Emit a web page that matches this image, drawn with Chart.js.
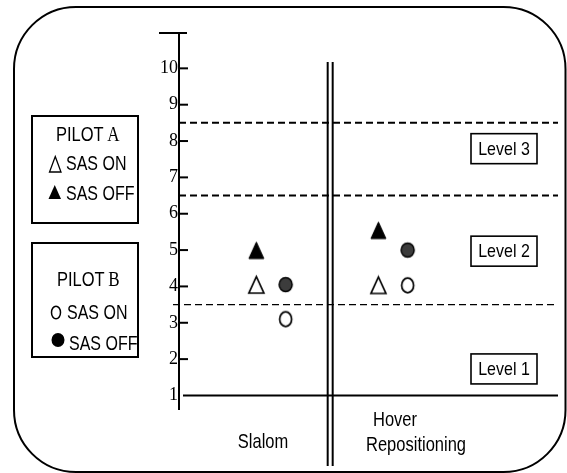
<!DOCTYPE html>
<html lang="en">
<head>
<meta charset="UTF-8">
<title>Pilot ratings - Slalom / Hover Repositioning</title>
<script src="https://cdn.jsdelivr.net/npm/chart.js"></script>
<style>
  body { margin: 0; background: #fff; }
  canvas { display: block; }
</style>
</head>
<body>
<canvas id="chart" width="567" height="473"></canvas>
<script>
// data
const categories = ['Slalom', 'Hover Repositioning'];
const categoryX = [1, 2];
const pilotASasOn = [4.05, 4.04];
const pilotASasOff = [5.0, 5.55];
const pilotBSasOn = [3.1, 4.03];
const pilotBSasOff = [4.05, 5.0];
const yTicks = [1, 2, 3, 4, 5, 6, 7, 8, 9, 10];
const levelBounds = [3.5, 6.5, 8.5];
const levelNames = ['Level 1', 'Level 2', 'Level 3'];
const levelLabelY = [1.73, 4.97, 7.79];
const dividerX = 1.485;
const pilotOffset = 0.12;

const SANS = '"Liberation Sans", Arial, sans-serif';
const SERIF = '"Liberation Serif", "Times New Roman", serif';

function makeMarker(w, h, draw) {
    const c = document.createElement('canvas');
    c.width = w;
    c.height = h;
    draw(c.getContext('2d'));
    return c;
}

function triPath(ctx, x, y, w, h) {
    ctx.beginPath();
    ctx.moveTo(x + w / 2, y);
    ctx.lineTo(x + w, y + h);
    ctx.lineTo(x, y + h);
    ctx.closePath();
}

const openTri = makeMarker(19, 21, ctx => {
    triPath(ctx, 2, 2.5, 15, 16.5);
    ctx.fillStyle = '#fff'; ctx.fill();
    ctx.lineWidth = 1.7; ctx.strokeStyle = '#000'; ctx.miterLimit = 3; ctx.stroke();
});
const filledTri = makeMarker(19, 21, ctx => {
    triPath(ctx, 2, 2.5, 15, 16.5);
    ctx.fillStyle = '#000'; ctx.fill();
    ctx.lineWidth = 1; ctx.strokeStyle = '#000'; ctx.miterLimit = 3; ctx.stroke();
});
const openCircle = makeMarker(17, 19, ctx => {
    ctx.beginPath(); ctx.ellipse(8.5, 9.5, 6, 7.3, 0, 0, Math.PI * 2);
    ctx.fillStyle = '#fff'; ctx.fill();
    ctx.lineWidth = 1.7; ctx.strokeStyle = '#000'; ctx.stroke();
});
const filledCircle = makeMarker(17, 19, ctx => {
    ctx.beginPath(); ctx.ellipse(8.5, 9.5, 6.5, 7, 0, 0, Math.PI * 2);
    ctx.fillStyle = '#3c3c3c'; ctx.fill();
    ctx.lineWidth = 1.5; ctx.strokeStyle = '#000'; ctx.stroke();
});

function line(ctx, x1, y1, x2, y2) {
    ctx.beginPath();
    ctx.moveTo(x1, y1);
    ctx.lineTo(x2, y2);
    ctx.stroke();
}

// the scanned figure has slightly tall, narrow lettering
function text(ctx, s, x, y, font, align, stretch) {
    ctx.save();
    ctx.translate(x, y);
    ctx.scale(1, stretch || 1.25);
    ctx.font = font;
    ctx.textAlign = align || 'left';
    ctx.textBaseline = 'middle';
    ctx.fillStyle = '#000';
    ctx.fillText(s, 0, 0);
    ctx.restore();
}

function roundRect(ctx, x, y, w, h, r) {
    ctx.beginPath();
    ctx.moveTo(x + r, y);
    ctx.arcTo(x + w, y, x + w, y + h, r);
    ctx.arcTo(x + w, y + h, x, y + h, r);
    ctx.arcTo(x, y + h, x, y, r);
    ctx.arcTo(x, y, x + w, y, r);
    ctx.closePath();
}

const decorations = {
    id: 'decorations',
    beforeDatasetsDraw(chart) {
        const ctx = chart.ctx;
        const area = chart.chartArea;
        const ya = chart.scales.y;
        const xa = chart.scales.x;
        ctx.save();
        ctx.strokeStyle = '#000';

        // outer rounded frame
        ctx.lineWidth = 2;
        roundRect(ctx, 14, 7, 551.5, 465, 62);
        ctx.stroke();

        // y axis, cap and ticks
        const ax = area.left;
        line(ctx, ax, area.top + 1, ax, area.bottom);
        line(ctx, ax - 20, area.top + 1, ax + 8, area.top + 1);
        yTicks.slice(1).forEach(v => {
            const y = ya.getPixelForValue(v);
            line(ctx, ax, y, ax + 9, y);
        });

        // level 1 baseline
        const yBase = ya.getPixelForValue(yTicks[0]);
        line(ctx, ax + 4, yBase, area.right, yBase);

        // level boundaries
        levelBounds.forEach((b, i) => {
            const y = ya.getPixelForValue(b);
            ctx.lineWidth = i === 0 ? 1.3 : 2;
            ctx.setLineDash([7, 4]);
            line(ctx, i === 0 ? ax - 6 : ax, y, area.right, y);
        });
        ctx.setLineDash([]);

        // double divider between tasks
        const dx = xa.getPixelForValue(dividerX);
        ctx.lineWidth = 2;
        line(ctx, dx - 2.5, 62, dx - 2.5, 466);
        line(ctx, dx + 2.5, 62, dx + 2.5, 466);

        // level labels
        levelNames.forEach((name, i) => {
            const cy = ya.getPixelForValue(levelLabelY[i]);
            const cx = area.right - 54;
            ctx.lineWidth = 1.6;
            ctx.strokeRect(cx - 33, cy - 15, 66, 30);
            text(ctx, name, cx, cy + 1, '16px ' + SANS, 'center', 1.2);
        });

        // task labels
        const sx = xa.getPixelForValue(categoryX[0]);
        text(ctx, categories[0], sx - 8, 442, '16.5px ' + SANS, 'center');
        const hx = xa.getPixelForValue(categoryX[1]);
        const parts = categories[1].split(' ');
        text(ctx, parts[0], hx - 20, 420, '16.5px ' + SANS, 'left');
        text(ctx, parts[1], hx - 27, 445, '16.5px ' + SANS, 'left');

        // legend boxes
        ctx.lineWidth = 2;
        ctx.strokeRect(32, 116, 106, 107);
        ctx.strokeRect(32, 243, 106, 114);

        ctx.font = '16.5px ' + SANS;
        const wPilot = ctx.measureText('PILOT ').width;
        text(ctx, 'PILOT ', 56, 135, '16.5px ' + SANS);
        text(ctx, 'A', 56 + wPilot - 1, 135, '17px ' + SERIF);
        text(ctx, 'PILOT ', 57, 280, '16.5px ' + SANS);
        text(ctx, 'B', 57 + wPilot - 1, 280, '17px ' + SERIF);

        ctx.lineWidth = 1.3;
        triPath(ctx, 49.5, 156.5, 11.5, 15.5);
        ctx.stroke();
        text(ctx, 'SAS ON', 66, 164, '16px ' + SANS);
        triPath(ctx, 48.5, 185, 12.5, 14);
        ctx.fillStyle = '#000';
        ctx.fill();
        text(ctx, 'SAS OFF', 66, 194, '16px ' + SANS);

        ctx.lineWidth = 1.5;
        ctx.beginPath(); ctx.ellipse(56, 312.5, 4.5, 6.3, 0, 0, Math.PI * 2); ctx.stroke();
        text(ctx, 'SAS ON', 67, 313, '16px ' + SANS);
        ctx.beginPath(); ctx.ellipse(58, 340, 6.5, 7, 0, 0, Math.PI * 2); ctx.fill();
        text(ctx, 'SAS OFF', 69, 344, '16px ' + SANS);

        ctx.restore();
    }
};

function points(values, offset) {
    return categoryX.map((x, i) => ({ x: x + offset, y: values[i] }));
}

new Chart(document.getElementById('chart'), {
    type: 'scatter',
    data: {
        datasets: [
            { label: 'Pilot A SAS ON', data: points(pilotASasOn, -pilotOffset), pointStyle: openTri, pointRadius: 8 },
            { label: 'Pilot A SAS OFF', data: points(pilotASasOff, -pilotOffset), pointStyle: filledTri, pointRadius: 8 },
            { label: 'Pilot B SAS ON', data: points(pilotBSasOn, pilotOffset), pointStyle: openCircle, pointRadius: 8 },
            { label: 'Pilot B SAS OFF', data: points(pilotBSasOff, pilotOffset), pointStyle: filledCircle, pointRadius: 8 }
        ]
    },
    options: {
        responsive: false,
        animation: false,
        devicePixelRatio: 1,
        layout: { padding: { top: 32, bottom: 63, left: 0, right: 9 } },
        plugins: { legend: { display: false }, tooltip: { enabled: false } },
        scales: {
            x: { type: 'linear', display: false, min: 0.246, max: 3.352 },
            y: {
                type: 'linear',
                min: 0.6,
                max: 11,
                afterBuildTicks: scale => { scale.ticks = yTicks.map(v => ({ value: v })); },
                afterFit: scale => { scale.width = 179; scale.paddingTop = 0; scale.paddingBottom = 0; },
                grid: { display: false, drawTicks: false },
                border: { display: false },
                ticks: { color: '#000', padding: 1, font: { family: SERIF, size: 18 } }
            }
        }
    },
    plugins: [decorations]
});
</script>
</body>
</html>
